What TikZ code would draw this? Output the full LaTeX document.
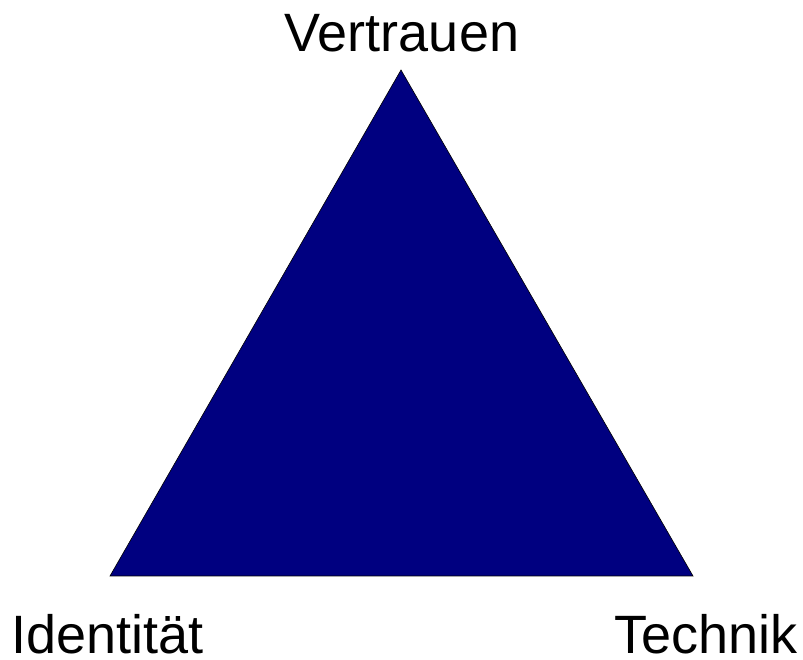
\documentclass[tikz,border=0pt]{standalone}
\usepackage{fontspec}
\setmainfont{Liberation Sans}
\usepackage{tikz}

\begin{document}
\begin{tikzpicture}[x=1pt, y=1pt, every node/.style={font=\fontsize{54}{62}\selectfont, inner sep=0pt}]
	\useasboundingbox (0,0) rectangle (803,660);
	\definecolor{trianglenavy}{RGB}{0,0,128}
	\coordinate (vertrauen) at (401,590);
	\coordinate (identitaet) at (110,84);
	\coordinate (technik) at (693,84);
	\filldraw[fill=trianglenavy, draw=black, line width=0.6pt] (vertrauen) -- (identitaet) -- (technik) -- cycle;
	\node[anchor=base] (vlabel) at (402,608) {Vertrauen};
	\node[anchor=base west] (ilabel) at (11,6) {Identität};
	\node[anchor=base east] (tlabel) at (798,6) {Technik};
\end{tikzpicture}
\end{document}
